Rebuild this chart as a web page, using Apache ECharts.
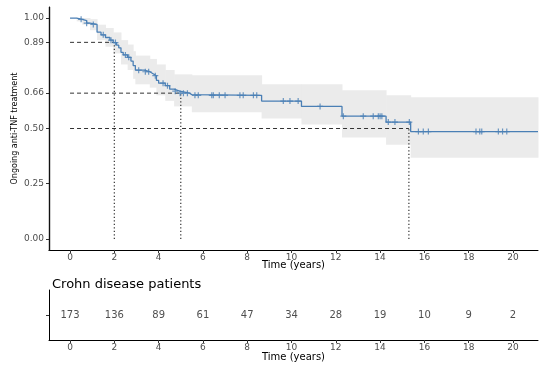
<!DOCTYPE html>
<html>
<head>
<meta charset="utf-8">
<script src="https://cdn.jsdelivr.net/npm/echarts@6/dist/echarts.min.js"></script>
<style>html,body{margin:0;padding:0;background:#fff}#c{width:550px;height:367px}</style>
</head>
<body>
<div id="c"></div>
<script>
// Kaplan-Meier step curve (time in years, survival after each step)
var kmTimes = [0, 0.3, 0.55, 0.75, 0.9, 1.22, 1.4, 1.6, 1.8, 1.95, 2.1, 2.2, 2.3, 2.4, 2.6, 2.75, 2.85, 2.95, 3.35, 3.6, 3.75, 3.9, 4.0, 4.3, 4.5, 4.7, 4.95, 5.4, 5.5, 8.65, 10.45, 12.28, 14.27, 15.38, 21.13];
var kmSurv  = [1.0, 0.994, 0.988, 0.977, 0.971, 0.936, 0.924, 0.912, 0.9, 0.889, 0.877, 0.865, 0.845, 0.833, 0.822, 0.805, 0.785, 0.764, 0.757, 0.748, 0.739, 0.718, 0.705, 0.694, 0.678, 0.669, 0.66, 0.653, 0.65, 0.624, 0.60, 0.556, 0.529, 0.486, 0.486];
// confidence band
var bandTimes = [0, 0.3, 0.55, 0.9, 1.22, 1.6, 1.95, 2.3, 2.6, 2.85, 2.95, 3.6, 3.9, 4.3, 4.7, 5.5, 8.65, 10.45, 12.28, 14.27, 15.38, 21.13];
var bandUpper = [1.0, 1.0, 1.0, 0.995, 0.97, 0.955, 0.935, 0.9, 0.88, 0.85, 0.83, 0.815, 0.79, 0.765, 0.745, 0.741, 0.70, 0.70, 0.673, 0.65, 0.641, 0.641];
var bandLower = [1.0, 0.985, 0.97, 0.945, 0.90, 0.87, 0.84, 0.79, 0.765, 0.725, 0.70, 0.685, 0.65, 0.625, 0.60, 0.573, 0.545, 0.518, 0.459, 0.427, 0.368, 0.368];
// censoring times
var censorTimes = [0.5, 0.75, 1.05, 1.5, 1.85, 2.05, 2.5, 2.65, 3.1, 3.4, 3.55, 3.85, 4.2, 4.4, 4.75, 4.97, 5.12, 5.3, 5.64, 5.79, 6.4, 6.47, 6.74, 7.0, 7.67, 7.82, 8.28, 8.43, 9.63, 9.93, 10.3, 11.29, 12.34, 13.24, 13.69, 13.92, 14.0, 14.08, 14.37, 14.67, 15.32, 15.73, 15.95, 16.18, 18.33, 18.5, 18.59, 19.34, 19.53, 19.72];
// reference (dashed) lines
var refTimes = [2, 5, 15.3];
var refSurv = [0.89, 0.66, 0.50];
// tick labels
var xTicks = [0, 2, 4, 6, 8, 10, 12, 14, 16, 18, 20];
var yTicks = [0, 0.25, 0.50, 0.66, 0.89, 1.00];
// number at risk
var riskTimes = [0, 2, 4, 6, 8, 10, 12, 14, 16, 18, 20];
var riskCounts = [173, 136, 89, 61, 47, 34, 28, 19, 10, 9, 2];

var X_MIN = -0.95, X_MAX = 21.13, Y_MIN = -0.05, Y_MAX = 1.05;

function survAt(t) {
  var s = kmSurv[0];
  for (var i = 0; i < kmTimes.length; i++) { if (kmTimes[i] <= t) s = kmSurv[i]; }
  return s;
}

var FONT = 'DejaVu Sans';
var kmData = kmTimes.map(function (t, i) { return [t, kmSurv[i]]; });
var bandData = [];
for (var i = 0; i < bandTimes.length - 1; i++) {
  bandData.push([bandTimes[i], bandTimes[i + 1], bandLower[i], bandUpper[i]]);
}
var censorData = censorTimes.map(function (t) { return [t, survAt(t)]; });

var series = [
  { type: 'custom', xAxisIndex: 0, yAxisIndex: 0, data: bandData, silent: true, z: 1,
    encode: { x: [0, 1], y: [2, 3] },
    renderItem: function (params, api) {
      var p0 = api.coord([api.value(0), api.value(3)]);
      var p1 = api.coord([api.value(1), api.value(2)]);
      return { type: 'rect', shape: { x: p0[0], y: p0[1], width: p1[0] - p0[0] + 0.5, height: p1[1] - p0[1] },
        style: { fill: '#ebebeb' } };
    } }
];
refTimes.forEach(function (t, i) {
  series.push({ type: 'line', xAxisIndex: 0, yAxisIndex: 0, data: [[0, refSurv[i]], [t, refSurv[i]]], symbol: 'none',
    lineStyle: { color: '#333', width: 1, type: [4, 3] }, z: 2, silent: true });
  series.push({ type: 'line', xAxisIndex: 0, yAxisIndex: 0, data: [[t, 0], [t, refSurv[i]]], symbol: 'none',
    lineStyle: { color: '#333', width: 1.2, type: [1.3, 2.2] }, z: 2, silent: true });
});
series.push({ type: 'line', xAxisIndex: 0, yAxisIndex: 0, data: kmData, step: 'end', symbol: 'none',
  lineStyle: { color: '#4a7fb5', width: 1.3 }, z: 3, silent: true });
series.push({ type: 'scatter', xAxisIndex: 0, yAxisIndex: 0, data: censorData,
  symbol: 'path://M4,0H6V4H10V6H6V10H4V6H0V4H4Z', symbolSize: 6,
  itemStyle: { color: '#4a7fb5' }, z: 4, silent: true });
series.push({ type: 'scatter', xAxisIndex: 1, yAxisIndex: 1,
  data: riskTimes.map(function (t) { return [t, 0]; }), symbolSize: 0,
  label: { show: true, position: 'inside', color: '#222', fontSize: 10, fontFamily: FONT,
    formatter: function (p) { return String(riskCounts[p.dataIndex]); } }, silent: true });

function axisLine() { return { show: true, onZero: false, lineStyle: { color: '#000', width: 1 } }; }
function xAxisDef(idx, gap) {
  return { type: 'value', gridIndex: idx, position: 'bottom', min: X_MIN, max: X_MAX, splitLine: { show: false },
    axisLine: axisLine(),
    axisTick: { show: true, length: 3, lineStyle: { color: '#333' }, customValues: xTicks },
    axisLabel: { customValues: xTicks, margin: 3, fontSize: 9, color: '#4d4d4d', fontFamily: FONT },
    name: 'Time (years)', nameLocation: 'middle', nameGap: gap, nameMoveOverlap: false,
    nameTextStyle: { fontSize: 10, color: '#000', fontFamily: FONT } };
}

var option = {
  animation: false,
  backgroundColor: '#fff',
  title: { text: 'Crohn disease patients', left: 47, top: 273,
    textStyle: { fontSize: 13, fontWeight: 'normal', color: '#000', fontFamily: FONT } },
  grid: [
    { left: 49, right: 12, top: 7, height: 243, containLabel: false, outerBoundsMode: 'none' },
    { left: 49, right: 12, top: 290, height: 50, containLabel: false, outerBoundsMode: 'none' }
  ],
  xAxis: [xAxisDef(0, 10), xAxisDef(1, 12)],
  yAxis: [
    { type: 'value', gridIndex: 0, position: 'left', min: Y_MIN, max: Y_MAX, splitLine: { show: false },
      axisLine: axisLine(),
      axisTick: { show: true, length: 3, lineStyle: { color: '#333' }, customValues: yTicks },
      axisLabel: { customValues: yTicks, margin: 5, fontSize: 9, color: '#4d4d4d', fontFamily: FONT,
        formatter: function (v) { return v.toFixed(2); } },
      name: 'Ongoing anti-TNF treatment', nameLocation: 'middle', nameGap: 30, nameMoveOverlap: false,
      nameTextStyle: { fontSize: 8, color: '#000', fontFamily: FONT } },
    { type: 'category', gridIndex: 1, position: 'left', data: [''], splitLine: { show: false },
      axisLine: axisLine(),
      axisTick: { show: true, length: 3, alignWithLabel: true, lineStyle: { color: '#333' } },
      axisLabel: { show: false } }
  ],
  series: series
};

var chart = echarts.init(document.getElementById('c'), null, { renderer: 'canvas' });
chart.setOption(option);

// left spine of the upper panel, placed through the axis scales
var pBottom = chart.convertToPixel({ xAxisIndex: 0, yAxisIndex: 0 }, [X_MIN, Y_MIN]);
var pTop = chart.convertToPixel({ xAxisIndex: 0, yAxisIndex: 0 }, [X_MIN, Y_MAX]);
var sx = Math.round(pBottom[0]) + 0.5;
chart.setOption({
  graphic: [{ type: 'line', z: 100, silent: true,
    shape: { x1: sx, y1: Math.round(pTop[1]), x2: sx, y2: Math.round(pBottom[1]) + 1 },
    style: { stroke: '#111', lineWidth: 1.4 } }]
});
</script>
</body>
</html>
